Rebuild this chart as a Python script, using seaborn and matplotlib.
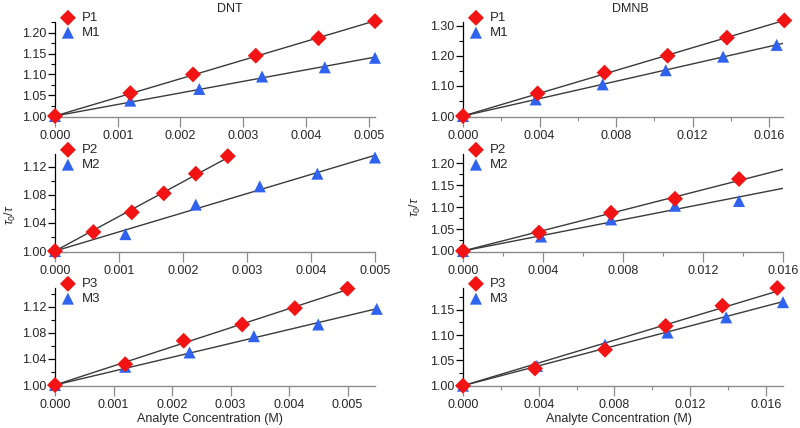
import numpy as np
import pandas as pd
import matplotlib
matplotlib.use("Agg")
import matplotlib.pyplot as plt
from matplotlib.ticker import MultipleLocator, AutoMinorLocator
import seaborn as sns

sns.set_style("white")
plt.rcParams['font.family'] = ['Liberation Sans', 'DejaVu Sans']
plt.rcParams['mathtext.fontset'] = 'custom'
plt.rcParams['mathtext.rm'] = 'Liberation Sans'
plt.rcParams['mathtext.it'] = 'Liberation Sans:italic'

# ---------------- data ----------------
# DNT column
p1_x = [0, 0.0012, 0.0022, 0.0032, 0.0042, 0.0051]
p1_y = [1.000, 1.055, 1.100, 1.145, 1.187, 1.228]
m1_x = [0, 0.0012, 0.0023, 0.0033, 0.0043, 0.0051]
m1_y = [1.000, 1.037, 1.065, 1.095, 1.117, 1.140]

p2_x = [0, 0.0006, 0.0012, 0.0017, 0.0022, 0.0027]
p2_y = [1.000, 1.027, 1.055, 1.082, 1.110, 1.135]
m2_x = [0, 0.0011, 0.0022, 0.0032, 0.0041, 0.0050]
m2_y = [1.000, 1.024, 1.066, 1.092, 1.110, 1.133]

p3_x = [0, 0.0012, 0.0022, 0.0032, 0.0041, 0.0050]
p3_y = [1.000, 1.032, 1.068, 1.093, 1.118, 1.148]
m3_x = [0, 0.0012, 0.0023, 0.0034, 0.0045, 0.0055]
m3_y = [1.000, 1.028, 1.050, 1.075, 1.093, 1.117]

# DMNB column
dp1_x = [0, 0.0039, 0.0074, 0.0107, 0.0138, 0.0168]
dp1_y = [1.000, 1.075, 1.144, 1.200, 1.260, 1.317]
dm1_x = [0, 0.0038, 0.0073, 0.0106, 0.0136, 0.0164]
dm1_y = [1.000, 1.055, 1.105, 1.152, 1.197, 1.236]

dp2_x = [0, 0.0038, 0.0074, 0.0106, 0.0138]
dp2_y = [1.000, 1.042, 1.087, 1.119, 1.164]
dm2_x = [0, 0.0039, 0.0074, 0.0106, 0.0138]
dm2_y = [1.000, 1.033, 1.072, 1.103, 1.114]

dp3_x = [0, 0.0038, 0.0075, 0.0107, 0.0137, 0.0166]
dp3_y = [1.000, 1.034, 1.071, 1.118, 1.158, 1.193]
dm3_x = [0, 0.0039, 0.0075, 0.0108, 0.0139, 0.0169]
dm3_y = [1.000, 1.039, 1.081, 1.105, 1.135, 1.165]

p_labels = ["P1", "P2", "P3"]
m_labels = ["M1", "M2", "M3"]
column_titles = ["DNT", "DMNB"]
x_label = "Analyte Concentration (M)"
y_label = r"$\tau_0$/$\tau$"

# fit line end (x) for each panel: (P series, M series)
fit_end = {
    (0, 0): (0.0051, 0.0051), (1, 0): (0.0027, 0.0050), (2, 0): (0.0050, 0.0055),
    (0, 1): (0.0168, 0.0168), (1, 1): (0.0160, 0.0160), (2, 1): (0.0166, 0.0169),
}

series = {
    (0, 0): (p1_x, p1_y, m1_x, m1_y), (1, 0): (p2_x, p2_y, m2_x, m2_y),
    (2, 0): (p3_x, p3_y, m3_x, m3_y), (0, 1): (dp1_x, dp1_y, dm1_x, dm1_y),
    (1, 1): (dp2_x, dp2_y, dm2_x, dm2_y), (2, 1): (dp3_x, dp3_y, dm3_x, dm3_y),
}

# axis limits / ticks
xlims = {(0, 0): (0, 0.0051), (1, 0): (0, 0.0050), (2, 0): (0, 0.00547),
         (0, 1): (0, 0.01673), (1, 1): (0, 0.0160), (2, 1): (0, 0.0169)}
ylims = {(0, 0): (0.9976, 1.226), (1, 0): (0.9986, 1.138), (2, 0): (0.9985, 1.149),
         (0, 1): (0.9967, 1.312), (1, 1): (0.9977, 1.221), (2, 1): (0.9994, 1.193)}
ymajor = {(0, 0): 0.05, (1, 0): 0.04, (2, 0): 0.04,
          (0, 1): 0.10, (1, 1): 0.05, (2, 1): 0.05}
xmajor = {0: 0.001, 1: 0.004}

RED = "#f21414"
BLUE = "#2f62ee"
LINE = "#3a3a3a"

W, H = 800, 428
fig = plt.figure(figsize=(8.0, 4.28), dpi=100)

col_left = [55, 463]
col_w = 320
rows = [(22, 117), (154, 252), (288, 386)]

def fit_slope(x, y):
    x = np.asarray(x); y = np.asarray(y) - 1.0
    return float(np.sum(x * y) / np.sum(x * x))

for (r, c), (px, py, mx, my) in series.items():
    top, bot = rows[r]
    ax = fig.add_axes([col_left[c] / W, 1 - bot / H, col_w / W, (bot - top) / H])
    ax.set_facecolor("none")

    # fit lines (through 1 at zero concentration)
    pe, me = fit_end[(r, c)]
    for xs, ys, xe in ((px, py, pe), (mx, my, me)):
        k = fit_slope(xs, ys)
        ldf = pd.DataFrame({"x": [0.0, xe], "y": [1.0, 1.0 + k * xe]})
        sns.lineplot(data=ldf, x="x", y="y", ax=ax, color=LINE, lw=1.0, zorder=3)

    pdf = pd.DataFrame({"x": px, "y": py})
    mdf = pd.DataFrame({"x": mx, "y": my})
    sns.scatterplot(data=mdf, x="x", y="y", ax=ax, marker="^", s=75, color=BLUE,
                    edgecolor="none", zorder=4, clip_on=False, label=m_labels[r])
    sns.scatterplot(data=pdf, x="x", y="y", ax=ax, marker="D", s=66, color=RED,
                    edgecolor="none", zorder=4, clip_on=False, label=p_labels[r])

    ax.set_xlim(*xlims[(r, c)])
    ax.set_ylim(*ylims[(r, c)])
    ax.set_xlabel("")
    ax.set_ylabel("")

    ax.yaxis.set_major_locator(MultipleLocator(ymajor[(r, c)]))
    ax.yaxis.set_minor_locator(AutoMinorLocator(2))
    ax.xaxis.set_major_locator(MultipleLocator(xmajor[c]))
    if c == 1:
        ax.xaxis.set_minor_locator(AutoMinorLocator(2))
    ax.yaxis.set_major_formatter(matplotlib.ticker.FormatStrFormatter("%.2f"))
    ax.xaxis.set_major_formatter(matplotlib.ticker.FormatStrFormatter("%.3f"))

    for s in ("top", "right"):
        ax.spines[s].set_visible(False)
    ax.spines["left"].set_color("black")
    ax.spines["left"].set_linewidth(0.9)
    ax.spines["bottom"].set_color("#8a8a8a")
    ax.spines["bottom"].set_linewidth(1.0)
    ax.tick_params(axis="y", which="major", direction="out", length=5, width=0.9,
                   color="black", labelsize=9, pad=1.5, left=True)
    ax.tick_params(axis="y", which="minor", direction="out", length=3, width=0.8,
                   color="black", left=True)
    ax.tick_params(axis="x", which="major", direction="out", length=7, width=0.9,
                   color="#8a8a8a", labelsize=9, pad=2.5, bottom=True)
    ax.tick_params(axis="x", which="minor", direction="out", length=3, width=0.8,
                   color="#8a8a8a", bottom=True)

    # legend P over M, placed at upper left above the axes
    h, l = ax.get_legend_handles_labels()
    order = [l.index(p_labels[r]), l.index(m_labels[r])]
    leg = ax.legend([h[i] for i in order], [l[i] for i in order],
                    loc="upper left",
                    bbox_to_anchor=((col_left[c] + 5) / W, 1 - (top - 10) / H),
                    bbox_transform=fig.transFigure, frameon=False, fontsize=9.5,
                    borderpad=0, labelspacing=0.2, handletextpad=0.45,
                    handlelength=1.2, borderaxespad=0)

# titles, axis labels
fig.text(230 / W, 1 - 9 / H, column_titles[0], ha="center", va="center", fontsize=9)
fig.text(630 / W, 1 - 9 / H, column_titles[1], ha="center", va="center", fontsize=9)
fig.text(210 / W, 1 - 419 / H, x_label, ha="center", va="center", fontsize=9)
fig.text(619 / W, 1 - 419 / H, x_label, ha="center", va="center", fontsize=9)
fig.text(10 / W, 1 - 215 / H, y_label, ha="center", va="center", rotation=90, fontsize=9)
fig.text(415 / W, 1 - 207 / H, y_label, ha="center", va="center", rotation=90, fontsize=9)

fig.savefig("out.png", dpi=100, facecolor="white")
